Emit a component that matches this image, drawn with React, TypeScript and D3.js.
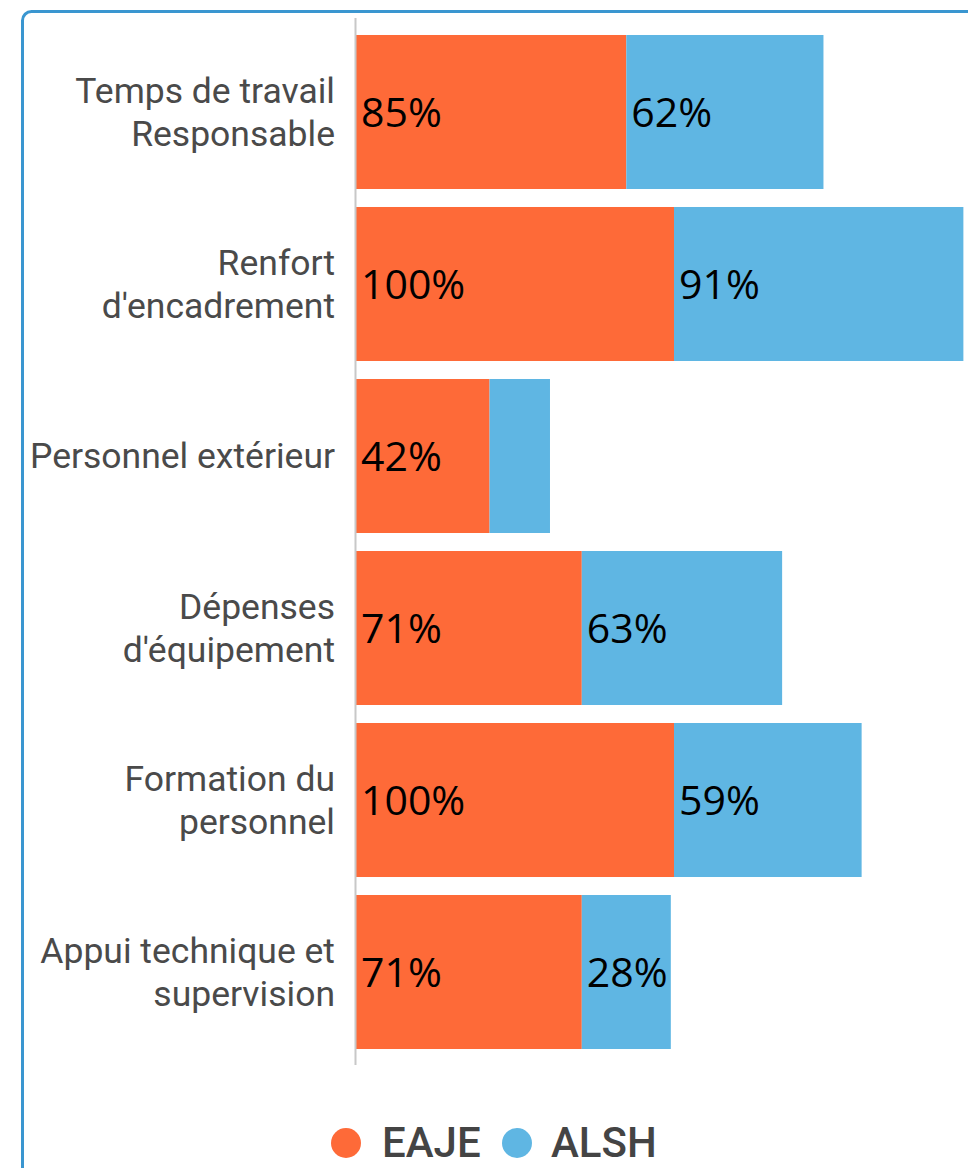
import React from "react";
import * as d3 from "d3";

const categories = [
  "Temps de travail\nResponsable",
  "Renfort\nd'encadrement",
  "Personnel extérieur",
  "Dépenses\nd'équipement",
  "Formation du\npersonnel",
  "Appui technique et\nsupervision",
];
const eajeValues = [85, 100, 42, 71, 100, 71];
const alshValues = [62, 91, 19, 63, 59, 28];
const seriesNames = ["EAJE", "ALSH"];
const seriesColors = ["#FE6A38", "#5FB6E3"];

const W = 968;
const H = 1168;

export default function App() {
  const x = d3.scaleLinear().domain([0, 200]).range([356, 992]);
  const y = d3
    .scaleBand<string>()
    .domain(categories)
    .range([26, 1058])
    .paddingInner(18 / 172)
    .paddingOuter(0.0523);

  const rows = categories.map((c, i) => ({
    cat: c,
    vals: [eajeValues[i], alshValues[i]],
  }));

  const catFont = "Roboto, 'Noto Sans', sans-serif";
  const valFont = "'Open Sans', 'Noto Sans', sans-serif";

  return (
    <svg
      width={W}
      height={H}
      style={{ position: "absolute", left: 0, top: 0, background: "#fff" }}
    >
      <rect x={22.5} y={11.5} width={1000} height={1200} rx={9} ry={9} fill="#fff" stroke="#3A96D0" strokeWidth={3} />
      {rows.map((r) => {
        const y0 = y(r.cat)!;
        const bh = y.bandwidth();
        let acc = 0;
        return (
          <g key={r.cat}>
            {r.vals.map((v, si) => {
              const x0 = x(acc);
              acc += v;
              const x1 = x(acc);
              const w = x1 - x0;
              return (
                <g key={si}>
                  <rect x={x0} y={y0} width={w} height={bh} fill={seriesColors[si]} />
                  {w > 80 && (
                    <text
                      x={x0 + 5}
                      y={y0 + bh / 2}
                      dy="0.36em"
                      fontFamily={valFont}
                      fontSize={41}
                      fill="#000"
                    >
                      {v}%
                    </text>
                  )}
                </g>
              );
            })}
          </g>
        );
      })}
      <line x1={355.5} x2={355.5} y1={18} y2={1065} stroke="#C8C8C8" strokeWidth={2} />
      {categories.map((c) => {
        const lines = c.split("\n");
        const cy = y(c)! + y.bandwidth() / 2;
        const lh = 43;
        return (
          <text
            key={c}
            textAnchor="end"
            fontFamily={catFont}
            fontSize={35.5}
            fill="#4A4A4A"
          >
            {lines.map((l, i) => (
              <tspan key={i} x={335} y={cy + (i - (lines.length - 1) / 2) * lh} dy="0.35em">
                {l}
              </tspan>
            ))}
          </text>
        );
      })}
      <g fontFamily={catFont} fontSize={42} fontWeight={500} fill="#444">
        <circle cx={346} cy={1143} r={15} fill={seriesColors[0]} />
        <text x={382} y={1157}>{seriesNames[0]}</text>
        <circle cx={517} cy={1143} r={15} fill={seriesColors[1]} />
        <text x={551} y={1157}>{seriesNames[1]}</text>
      </g>
    </svg>
  );
}
